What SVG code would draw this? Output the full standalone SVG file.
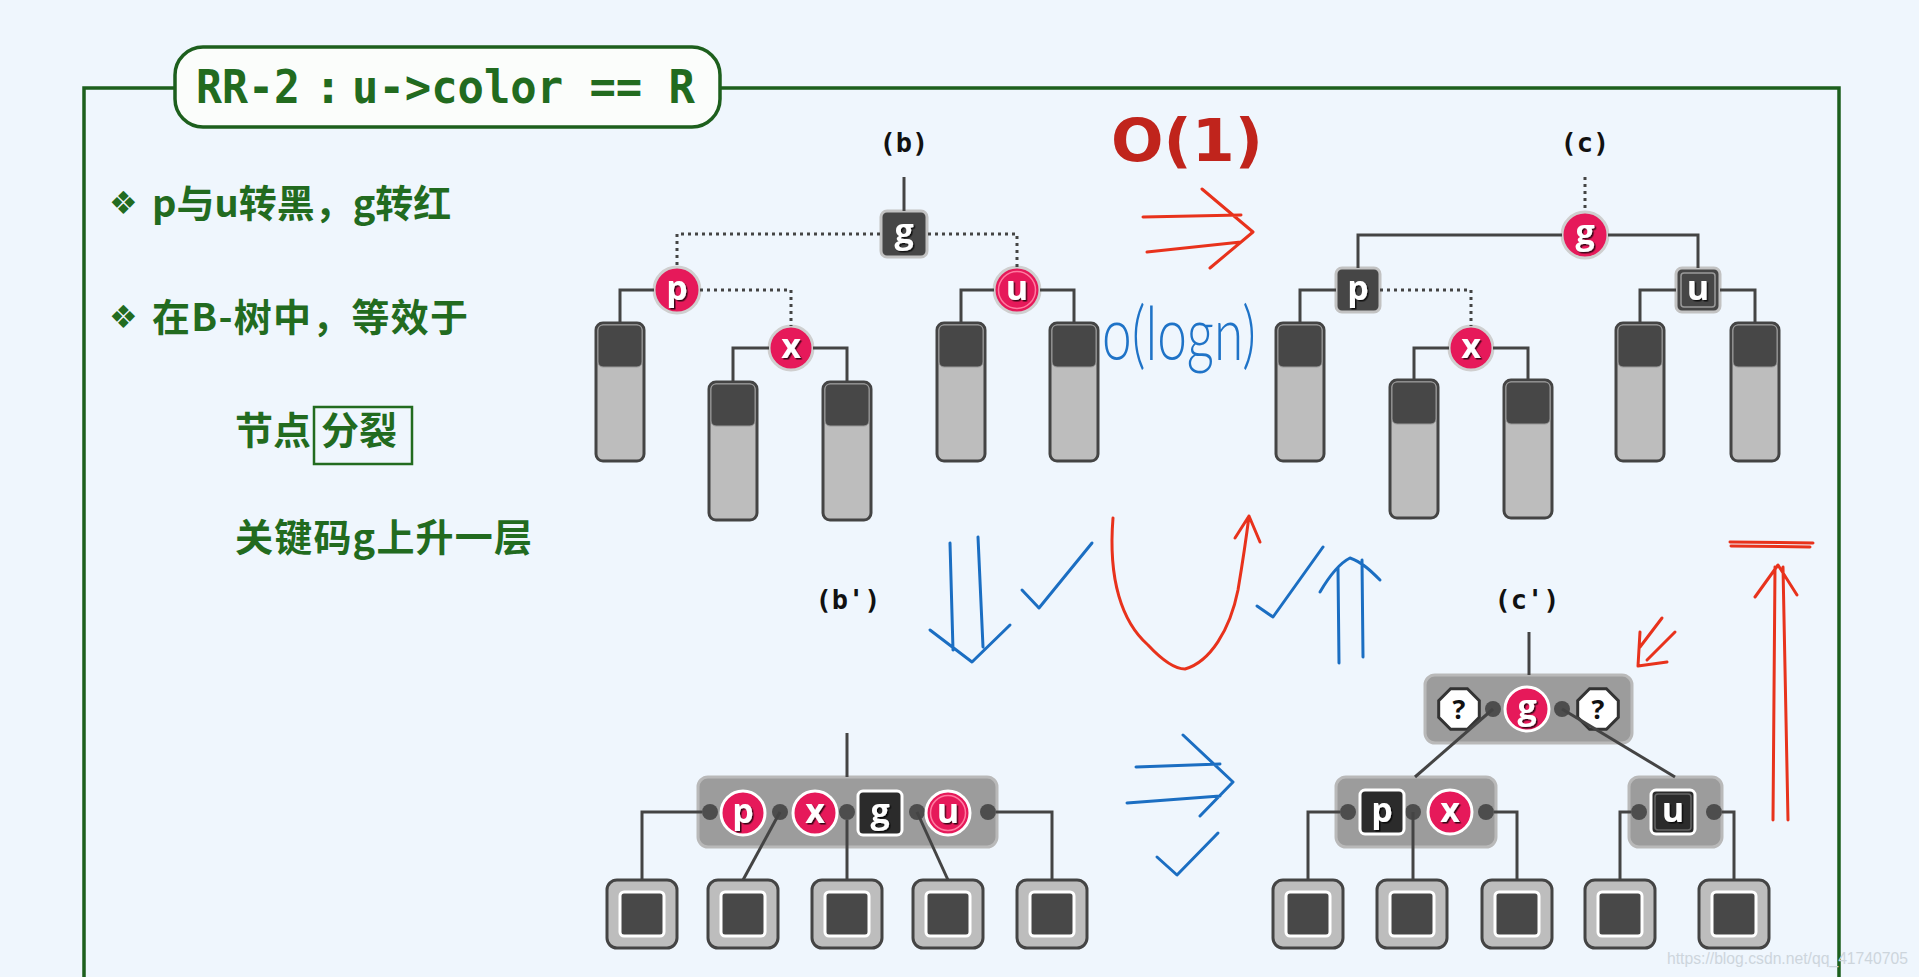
<svg xmlns="http://www.w3.org/2000/svg" xmlns:xlink="http://www.w3.org/1999/xlink" width="1919" height="977" viewBox="0 0 1919 977">
<style>
.frame{fill:none;stroke:#1d5f1d;stroke-width:3.5}
.green{fill:#226b1f;font-family:"Noto Sans CJK SC","Noto Sans",sans-serif;font-weight:bold;font-size:38px}
.bul{fill:#226b1f;font-family:"DejaVu Sans",sans-serif;font-size:32px}
.ttl{fill:#226b1f;font-family:"DejaVu Sans Mono",monospace;font-weight:bold;font-size:46px}
.lab{fill:#111;font-family:"DejaVu Sans Mono",monospace;font-weight:bold;font-size:27px;text-anchor:middle}
.key{fill:#fff;font-family:"Open Sans","DejaVu Sans",sans-serif;font-weight:bold;font-size:34px;text-anchor:middle;filter:url(#sh)}
.q{fill:#111;font-family:"Open Sans","DejaVu Sans",sans-serif;font-weight:bold;font-size:27px;text-anchor:middle}
.red{fill:#e6195a;stroke:#cfcfcf;stroke-width:3}
.redw{fill:#e6195a;stroke:#fff;stroke-width:3}
.blk{fill:#464646;stroke:#c2c2c2;stroke-width:3}
.blkw{fill:#2b2b2b;stroke:#fff;stroke-width:3}
.box{fill:#9c9c9c;stroke:#b9b9b9;stroke-width:3}
.dot{fill:#4d4d4d}
.ln{fill:none;stroke:#444;stroke-width:3}
.dt{fill:none;stroke:#444;stroke-width:3;stroke-dasharray:3 4}
.hr{fill:none;stroke:#e8321c;stroke-width:3;stroke-linecap:round;stroke-linejoin:round}
.hb{fill:none;stroke:#1b6ec2;stroke-width:3;stroke-linecap:round;stroke-linejoin:round}
</style>
<defs>
<filter id="sh" x="-30%" y="-30%" width="160%" height="160%"><feDropShadow dx="1.5" dy="1.5" stdDeviation="0.6" flood-color="#000" flood-opacity="0.75"/></filter>
<g id="leafT"><rect x="-24" y="0" width="48" height="138" rx="7" fill="#bdbdbd" stroke="#444" stroke-width="3"/><rect x="-22" y="2" width="44" height="42" rx="5" fill="#474747" stroke="#9a9a9a" stroke-width="1"/></g>
<g id="leafB"><rect x="-35" y="-34" width="70" height="68" rx="10" fill="#bdbdbd" stroke="#444" stroke-width="3"/><rect x="-22" y="-22" width="44" height="44" rx="4" fill="#484848" stroke="#fff" stroke-width="3"/></g>
<polygon id="oct" points="8.4,-20.3 20.3,-8.4 20.3,8.4 8.4,20.3 -8.4,20.3 -20.3,8.4 -20.3,-8.4 -8.4,-20.3" fill="#fff" stroke="#333" stroke-width="3"/>
</defs>
<rect width="1919" height="977" fill="#eff6fd"/>

<g id="frame">
<path class="frame" d="M84,990 V88 H1839 V990"/>
<rect x="175" y="47" width="545" height="80" rx="28" fill="#fbfdfb" stroke="#1d5f1d" stroke-width="3.5"/>
<text class="ttl" x="196" y="103" textLength="104" lengthAdjust="spacingAndGlyphs">RR-2</text>
<text class="ttl" x="328" y="103" text-anchor="middle">:</text>
<text class="ttl" x="352" y="103" textLength="343" lengthAdjust="spacingAndGlyphs">u-&gt;color == R</text>
</g>

<g id="notes">
<text class="bul" x="109" y="214">❖</text>
<text class="green" x="152" y="217">p与u转黑，g转红</text>
<text class="bul" x="109" y="328">❖</text>
<text class="green" x="152" y="331" textLength="316">在B-树中，等效于</text>
<text class="green" x="235" y="444">节点</text>
<rect x="314" y="407" width="98" height="57" fill="none" stroke="#226b1f" stroke-width="2.5"/>
<text class="green" x="321" y="444">分裂</text>
<text class="green" x="235" y="551" textLength="297">关键码g上升一层</text>
</g>

<g id="labels">
<text class="lab" x="904" y="152">(b)</text>
<text class="lab" x="1585" y="152">(c)</text>
<text class="lab" x="848" y="609">(b')</text>
<text class="lab" x="1527" y="609">(c')</text>
</g>

<!-- tree (b) -->
<g id="b-g"><rect class="blk" x="881" y="211" width="46" height="46" rx="6"/><text class="key" x="904" y="243">g</text></g>
<g id="b-p"><circle class="red" cx="677" cy="290" r="23"/><text class="key" x="677" y="300">p</text></g>
<g id="b-x"><circle class="red" cx="791" cy="348" r="22"/><text class="key" x="791" y="358">x</text></g>
<g id="b-u"><circle class="red" cx="1017" cy="290" r="23"/><circle cx="1017" cy="290" r="18.5" fill="none" stroke="#ff7aa0" stroke-width="1.5"/><text class="key" x="1017" y="300">u</text></g>
<g id="b-leaves">
<use href="#leafT" x="620" y="323"/><use href="#leafT" x="733" y="382"/><use href="#leafT" x="847" y="382"/><use href="#leafT" x="961" y="323"/><use href="#leafT" x="1074" y="323"/>
</g>

<!-- tree (c) -->
<g id="c-g"><circle class="red" cx="1585" cy="235" r="23"/><text class="key" x="1585" y="244">g</text></g>
<g id="c-p"><rect class="blk" x="1336" y="268" width="44" height="44" rx="6"/><text class="key" x="1358" y="300">p</text></g>
<g id="c-x"><circle class="red" cx="1471" cy="348" r="22"/><text class="key" x="1471" y="358">x</text></g>
<g id="c-u"><rect class="blk" x="1676" y="268" width="44" height="44" rx="6"/><rect x="1681" y="273" width="34" height="34" rx="3" fill="none" stroke="#9a9a9a" stroke-width="1.5"/><text class="key" x="1698" y="300">u</text></g>
<g id="c-leaves">
<use href="#leafT" x="1300" y="323"/><use href="#leafT" x="1414" y="380"/><use href="#leafT" x="1528" y="380"/><use href="#leafT" x="1640" y="323"/><use href="#leafT" x="1755" y="323"/>
</g>

<!-- tree (b') -->
<g id="bp-node">
<rect class="box" x="698" y="777" width="299" height="70" rx="10"/>
<circle class="dot" cx="710" cy="812" r="8"/><circle class="dot" cx="780" cy="812" r="8"/><circle class="dot" cx="847" cy="812" r="8"/><circle class="dot" cx="917" cy="812" r="8"/><circle class="dot" cx="988" cy="812" r="8"/>
<circle class="redw" cx="743" cy="813" r="22"/><text class="key" x="743" y="823">p</text>
<circle class="redw" cx="815" cy="813" r="22"/><text class="key" x="815" y="823">x</text>
<rect class="blkw" x="858" y="791" width="44" height="44" rx="5"/><text class="key" x="880" y="823">g</text>
<circle class="redw" cx="948" cy="813" r="22"/><circle cx="948" cy="813" r="17.5" fill="none" stroke="#ff7aa0" stroke-width="1.5"/><text class="key" x="948" y="823">u</text>
</g>
<g id="bp-leaves">
<use href="#leafB" x="642" y="914"/><use href="#leafB" x="743" y="914"/><use href="#leafB" x="847" y="914"/><use href="#leafB" x="948" y="914"/><use href="#leafB" x="1052" y="914"/>
</g>

<!-- tree (c') -->
<g id="cp-top">
<rect class="box" x="1425" y="675" width="207" height="68" rx="10"/>
<circle class="dot" cx="1493" cy="709" r="8"/><circle class="dot" cx="1562" cy="709" r="8"/>
<use href="#oct" x="1459" y="709"/><text class="q" x="1459" y="719">?</text>
<circle class="redw" cx="1527" cy="709" r="22"/><text class="key" x="1527" y="719">g</text>
<use href="#oct" x="1598" y="709"/><text class="q" x="1598" y="719">?</text>
</g>
<g id="cp-left">
<rect class="box" x="1336" y="777" width="160" height="70" rx="10"/>
<circle class="dot" cx="1348" cy="812" r="8"/><circle class="dot" cx="1413" cy="812" r="8"/><circle class="dot" cx="1486" cy="812" r="8"/>
<rect class="blkw" x="1360" y="790" width="44" height="44" rx="5"/><text class="key" x="1382" y="822">p</text>
<circle class="redw" cx="1450" cy="812" r="22"/><text class="key" x="1450" y="822">x</text>
</g>
<g id="cp-right">
<rect class="box" x="1629" y="777" width="93" height="70" rx="10"/>
<circle class="dot" cx="1639" cy="812" r="8"/><circle class="dot" cx="1714" cy="812" r="8"/>
<rect class="blkw" x="1651" y="790" width="44" height="44" rx="5"/><rect x="1655" y="794" width="36" height="36" rx="3" fill="none" stroke="#666" stroke-width="1.5"/><text class="key" x="1673" y="822">u</text>
</g>
<g id="cp-leaves">
<use href="#leafB" x="1308" y="914"/><use href="#leafB" x="1412" y="914"/><use href="#leafB" x="1517" y="914"/><use href="#leafB" x="1620" y="914"/><use href="#leafB" x="1734" y="914"/>
</g>

<g id="connectors">
<!-- (b) -->
<path class="ln" d="M904,177 V211"/>
<path class="dt" d="M880,234 H677 V267"/>
<path class="dt" d="M928,234 H1017 V267"/>
<path class="ln" d="M654,290 H620 V323"/>
<path class="dt" d="M700,290 H791 V326"/>
<path class="ln" d="M769,348 H733 V382"/>
<path class="ln" d="M813,348 H847 V382"/>
<path class="ln" d="M994,290 H961 V323"/>
<path class="ln" d="M1040,290 H1074 V323"/>
<!-- (c) -->
<path class="dt" d="M1585,177 V212"/>
<path class="ln" d="M1562,235 H1358 V268"/>
<path class="ln" d="M1608,235 H1698 V268"/>
<path class="ln" d="M1336,290 H1300 V323"/>
<path class="dt" d="M1380,290 H1471 V326"/>
<path class="ln" d="M1449,348 H1414 V380"/>
<path class="ln" d="M1493,348 H1528 V380"/>
<path class="ln" d="M1676,290 H1640 V323"/>
<path class="ln" d="M1720,290 H1755 V323"/>
<!-- (b') -->
<path class="ln" d="M847,733 V777"/>
<path class="ln" d="M702,812 H642 V880"/>
<path class="ln" d="M780,812 L743,880"/>
<path class="ln" d="M847,820 V880"/>
<path class="ln" d="M917,812 L948,880"/>
<path class="ln" d="M996,812 H1052 V880"/>
<!-- (c') -->
<path class="ln" d="M1529,632 V675"/>
<path class="ln" d="M1493,709 L1415,777"/>
<path class="ln" d="M1562,709 L1675,777"/>
<path class="ln" d="M1340,812 H1308 V880"/>
<path class="ln" d="M1413,812 V880"/>
<path class="ln" d="M1494,812 H1517 V880"/>
<path class="ln" d="M1631,812 H1620 V880"/>
<path class="ln" d="M1722,812 H1734 V880"/>
</g>

<g id="annotations">
<text x="1111" y="161" fill="#c0241c" font-family="DejaVu Sans,sans-serif" font-weight="bold" font-size="58" textLength="152" lengthAdjust="spacingAndGlyphs">O(1)</text>
<path class="hr" d="M1143,217 L1241,215 M1147,252 L1241,242 M1202,189 L1253,232 L1210,268"/>
<text x="1102" y="360" fill="#1f73c7" font-family="Lato,sans-serif" font-weight="300" font-size="74" textLength="154" lengthAdjust="spacingAndGlyphs">o(logn)</text>
<path class="hb" d="M950,543 L953,650 M978,537 L983,647 M930,630 L972,662 L1010,625"/>
<path class="hb" d="M1022,590 L1039,608 L1092,543"/>
<path class="hr" d="M1113,518 C1108,580 1122,622 1148,645 C1162,660 1174,669 1185,669 C1210,662 1230,630 1238,590 C1243,560 1246,540 1249,516 M1235,538 L1249,516 L1260,542"/>
<path class="hb" d="M1257,606 L1273,617 L1323,547"/>
<path class="hb" d="M1339,663 L1338,568 M1363,657 L1362,560 M1320,592 C1330,575 1340,563 1350,558 C1362,562 1372,572 1380,580"/>
<path class="hb" d="M1136,767 L1220,764 M1127,803 L1220,796 M1183,735 L1233,782 L1200,816"/>
<path class="hb" d="M1157,857 L1177,875 L1218,833"/>
<path class="hr" d="M1662,618 L1640,647 M1675,632 L1647,660 M1640,632 L1638,666 L1667,662"/>
<path class="hr" d="M1730,542 L1813,543 M1731,546 L1810,547 M1773,820 L1775,567 M1788,820 L1783,567 M1755,597 L1778,565 L1797,595"/>
</g>

<text x="1667" y="964" fill="#cdd5dc" font-family="Liberation Sans,sans-serif" font-size="16" textLength="241" lengthAdjust="spacingAndGlyphs">https://blog.csdn.net/qq_41740705</text>
</svg>
